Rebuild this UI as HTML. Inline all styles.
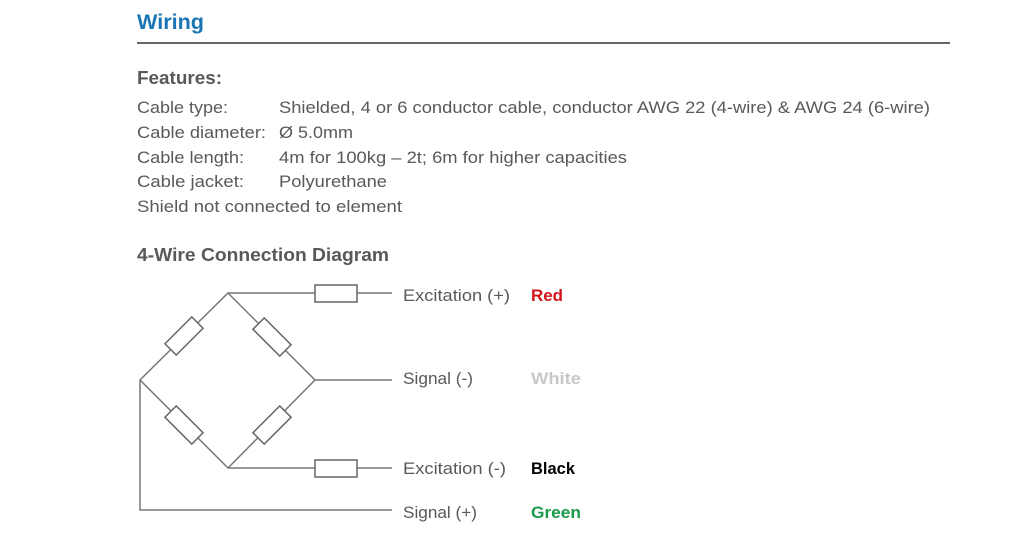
<!DOCTYPE html>
<html><head><meta charset="utf-8"><style>
html,body{margin:0;padding:0;background:#fff;width:1015px;height:549px;overflow:hidden}
svg{display:block}
text{font-family:"Liberation Sans",sans-serif;fill:#595959;font-size:17px}
.b{font-weight:bold}
</style></head><body>
<svg width="1015" height="549" viewBox="0 0 1015 549">
<text x="137" y="29" class="b" style="fill:#1a75b5;font-size:21px" textLength="67" lengthAdjust="spacingAndGlyphs">Wiring</text>
<rect x="137" y="42" width="813" height="2" fill="#666"/>
<text x="137" y="84" class="b" style="font-size:18px" textLength="85" lengthAdjust="spacingAndGlyphs">Features:</text>
<text x="137" y="113" textLength="91" lengthAdjust="spacingAndGlyphs">Cable type:</text>
<text x="279" y="113" textLength="651" lengthAdjust="spacingAndGlyphs">Shielded, 4 or 6 conductor cable, conductor AWG 22 (4-wire) &amp; AWG 24 (6-wire)</text>
<text x="137" y="138" textLength="129" lengthAdjust="spacingAndGlyphs">Cable diameter:</text>
<text x="279" y="138" textLength="74" lengthAdjust="spacingAndGlyphs">Ø 5.0mm</text>
<text x="137" y="163" textLength="107" lengthAdjust="spacingAndGlyphs">Cable length:</text>
<text x="279" y="163" textLength="348" lengthAdjust="spacingAndGlyphs">4m for 100kg – 2t; 6m for higher capacities</text>
<text x="137" y="187" textLength="107" lengthAdjust="spacingAndGlyphs">Cable jacket:</text>
<text x="279" y="187" textLength="108" lengthAdjust="spacingAndGlyphs">Polyurethane</text>
<text x="137" y="212" textLength="265" lengthAdjust="spacingAndGlyphs">Shield not connected to element</text>
<text x="137" y="261" class="b" style="font-size:18px" textLength="252" lengthAdjust="spacingAndGlyphs">4-Wire Connection Diagram</text>
<g stroke="#777" stroke-width="1.5" fill="none">
<polyline points="392,293 228,293 140,380 228,468 392,468"/>
<polyline points="228,293 315,380 228,468"/>
<line x1="315" y1="380" x2="392" y2="380"/>
<polyline points="140,380 140,510 392,510"/>
</g>
<g stroke="#666" stroke-width="1.5" fill="#fff">
<rect x="315" y="285" width="42" height="17"/>
<rect x="315" y="460" width="42" height="17"/>
<rect x="-19" y="-8" width="38" height="16" transform="translate(184,336) rotate(-45)"/>
<rect x="-19" y="-8" width="38" height="16" transform="translate(272,337) rotate(45)"/>
<rect x="-19" y="-8" width="38" height="16" transform="translate(184,425) rotate(45)"/>
<rect x="-19" y="-8" width="38" height="16" transform="translate(272,425) rotate(-45)"/>
</g>
<text x="403" y="301" textLength="107" lengthAdjust="spacingAndGlyphs">Excitation (+)</text>
<text x="531" y="301" class="b" style="fill:#d0141b" textLength="32" lengthAdjust="spacingAndGlyphs">Red</text>
<text x="403" y="384" textLength="70" lengthAdjust="spacingAndGlyphs">Signal (-)</text>
<text x="531" y="384" class="b" style="fill:#c8c8c8" textLength="50" lengthAdjust="spacingAndGlyphs">White</text>
<text x="403" y="474" textLength="103" lengthAdjust="spacingAndGlyphs">Excitation (-)</text>
<text x="531" y="474" class="b" style="fill:#000" textLength="44" lengthAdjust="spacingAndGlyphs">Black</text>
<text x="403" y="518" textLength="74" lengthAdjust="spacingAndGlyphs">Signal (+)</text>
<text x="531" y="518" class="b" style="fill:#1a9a4a" textLength="50" lengthAdjust="spacingAndGlyphs">Green</text>
</svg>
</body></html>
